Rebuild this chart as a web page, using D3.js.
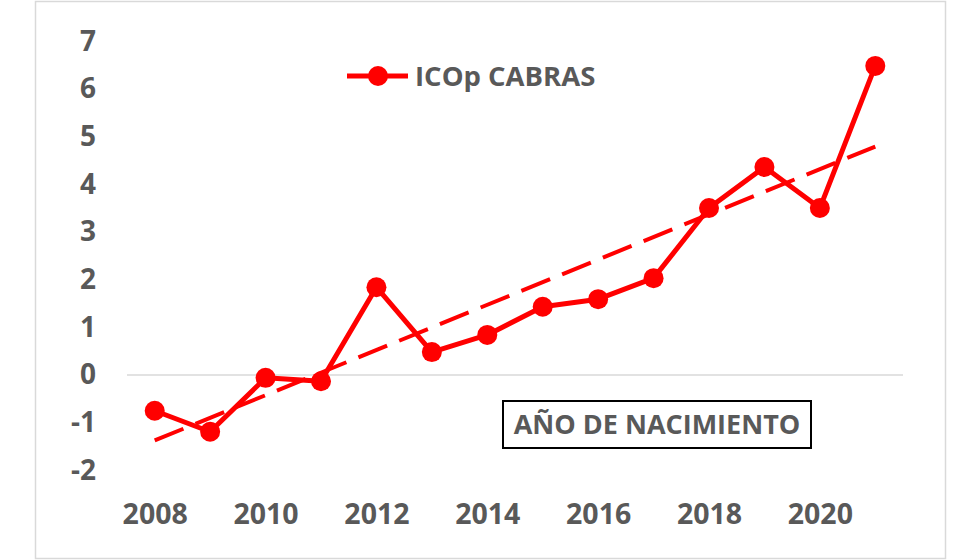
<!DOCTYPE html>
<html><head><meta charset="utf-8">
<script src="https://cdn.jsdelivr.net/npm/d3@7"></script>
<style>body{margin:0;background:#fff}svg{display:block}</style>
</head><body>
<svg id="c" width="980" height="560"></svg>
<script>
const years = [2008,2009,2010,2011,2012,2013,2014,2015,2016,2017,2018,2019,2020,2021];
const icopValues = [-0.75,-1.19,-0.06,-0.13,1.84,0.48,0.84,1.43,1.59,2.03,3.50,4.36,3.50,6.48];
const yTicks = [-2,-1,0,1,2,3,4,5,6,7];
const xTickLabels = [2008,2010,2012,2014,2016,2018,2020];
const seriesName = "ICOp CABRAS";
const axisTitle = "AÑO DE NACIMIENTO";

const svg = d3.select("#c");
const red = "#ff0000", grey = "#595959";
const font = "'Open Sans', sans-serif";

svg.append("rect").attr("x",35.5).attr("y",1.5).attr("width",910).attr("height",557)
  .attr("fill","#fff").attr("stroke","#d9d9d9").attr("stroke-width",1.5);

const x = d3.scalePoint().domain(years).range([127,903]).padding(0.5);
const y = d3.scaleLinear().domain([-2,7]).range([470.4,41.1]);

// zero line
svg.append("line").attr("x1",127).attr("x2",903).attr("y1",y(0)).attr("y2",y(0))
  .attr("stroke","#d9d9d9").attr("stroke-width",1.5);

// y axis
const ya = svg.append("g").attr("transform","translate(96,0)")
  .call(d3.axisLeft(y).tickValues(yTicks).tickSize(0).tickPadding(0).tickFormat(d => String(d)));
ya.select(".domain").remove();
ya.selectAll("text").attr("fill",grey).style("font-family",font).style("font-weight",700).style("font-size","28px");

// x axis
const xa = svg.append("g").attr("transform","translate(0,504)")
  .call(d3.axisBottom(x).tickValues(xTickLabels).tickSize(0).tickPadding(0).tickFormat(d => String(d)));
xa.select(".domain").remove();
xa.selectAll("text").attr("fill",grey).style("font-family",font).style("font-weight",700).style("font-size","28.5px");

// trendline (least squares from data)
const n = years.length;
const mx = d3.mean(years), my = d3.mean(icopValues);
let sxy = 0, sxx = 0;
years.forEach((yr,i)=>{ sxy += (yr-mx)*(icopValues[i]-my); sxx += (yr-mx)*(yr-mx); });
const slope = sxy/sxx, icpt = my - slope*mx;
const y0 = years[0], y1 = years[n-1];
svg.append("line")
  .attr("x1",x(y0)).attr("y1",y(icpt+slope*y0))
  .attr("x2",x(y1)).attr("y2",y(icpt+slope*y1))
  .attr("stroke",red).attr("stroke-width",4).attr("stroke-dasharray","31,13");

// main line
const line = d3.line().x((d,i)=>x(years[i])).y(d=>y(d));
svg.append("path").datum(icopValues).attr("d",line).attr("fill","none")
  .attr("stroke",red).attr("stroke-width",5).attr("stroke-linejoin","round");
svg.selectAll("circle.pt").data(icopValues).join("circle").attr("class","pt")
  .attr("cx",(d,i)=>x(years[i])).attr("cy",d=>y(d)).attr("r",10).attr("fill",red);

// legend
const lg = svg.append("g");
lg.append("line").attr("x1",347).attr("x2",408).attr("y1",76).attr("y2",76).attr("stroke",red).attr("stroke-width",5);
lg.append("circle").attr("cx",378).attr("cy",76).attr("r",10).attr("fill",red);
lg.append("text").attr("x",415).attr("y",76).attr("dy","0.35em").text(seriesName)
  .attr("fill",grey).style("font-family",font).style("font-weight",700).style("font-size","27.5px");

// axis title box
svg.append("rect").attr("x",503).attr("y",401).attr("width",308).attr("height",47)
  .attr("fill","#fff").attr("stroke","#000").attr("stroke-width",2);
svg.append("text").attr("x",657).attr("y",425).attr("dy","0.35em").attr("text-anchor","middle")
  .text(axisTitle).attr("fill",grey).style("font-family",font).style("font-weight",700).style("font-size","27px");
</script>
</body></html>
